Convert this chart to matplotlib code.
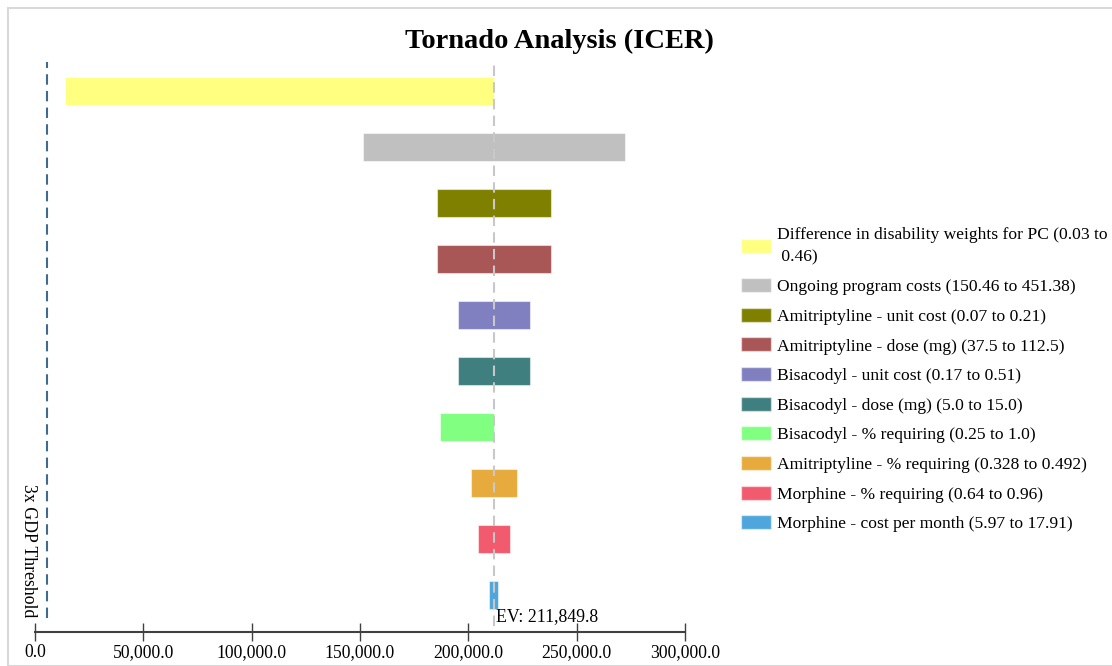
import matplotlib
matplotlib.use("Agg")
import matplotlib.pyplot as plt
from matplotlib.patches import Rectangle, Patch
from matplotlib.ticker import FuncFormatter

# données du tornado (ICER)
parametres = [
    "Difference in disability weights for PC (0.03 to\n 0.46)",
    "Ongoing program costs (150.46 to 451.38)",
    "Amitriptyline - unit cost (0.07 to 0.21)",
    "Amitriptyline - dose (mg) (37.5 to 112.5)",
    "Bisacodyl - unit cost (0.17 to 0.51)",
    "Bisacodyl - dose (mg) (5.0 to 15.0)",
    "Bisacodyl - % requiring (0.25 to 1.0)",
    "Amitriptyline - % requiring (0.328 to 0.492)",
    "Morphine - % requiring (0.64 to 0.96)",
    "Morphine - cost per month (5.97 to 17.91)",
]
icer_bas = [13900, 151400, 185500, 185500, 195200, 195200, 186900, 201200, 204500, 209600]
icer_haut = [211849.8, 272300, 238200, 238200, 228500, 228500, 211849.8, 222500, 219200, 213700]
couleurs = ["#ffff80", "#c0c0c0", "#808000", "#a95656", "#8080c0",
            "#3f7f7f", "#80ff80", "#e6ab3c", "#f25a6e", "#4ea6dc"]

ev = 211849.8
seuil_gdp = 5540
xticks = [0, 50000, 100000, 150000, 200000, 250000, 300000]

plt.rcParams["font.family"] = ["Liberation Serif", "DejaVu Serif"]

fig = plt.figure(figsize=(11.12, 6.66), dpi=100)
fig.patches.append(Rectangle((8 / 1112, 0), 1.0, 1 - 8 / 666, transform=fig.transFigure,
                             facecolor="none", edgecolor="#d9d9d9", lw=1.5))

ax = fig.add_axes([35 / 1112, 1 - 632 / 666, 650 / 1112, 570 / 666])

for i, (lo, hi, c) in enumerate(zip(icer_bas, icer_haut, couleurs)):
    ax.barh(i, hi - lo, left=lo, height=0.5, color=c,
            edgecolor=(1, 1, 1, 0.5), linewidth=0.8)

ax.axvline(ev, ymin=0.01, color="#c8c8c8", ls=(0, (5, 3)), lw=1.5, zorder=3)
ax.axvline(seuil_gdp, ymin=0.025, color="#3f6a92", ls=(0, (5, 3)), lw=1.5)

ax.text(ev + 1000, 9.38, f"EV: {ev:,.1f}", fontsize=12.8, va="center", ha="left")
ax.text(900, 8.2, "3x GDP Threshold", fontsize=12.8, rotation=270,
        va="center", ha="right")

ax.set_xlim(0, 300000)
ax.set_ylim(9.66, -0.52)
ax.set_xticks(xticks)
ax.xaxis.set_major_formatter(FuncFormatter(lambda v, p: f"{v:,.1f}"))
ax.tick_params(axis="x", labelsize=12.7, direction="inout", length=13, width=1,
               color="#404040", pad=2)
ax.set_yticks([])
for s in ["left", "right", "top"]:
    ax.spines[s].set_visible(False)
ax.spines["bottom"].set_color("#404040")
ax.spines["bottom"].set_linewidth(1.5)

fig.text(0.503, 1 - 41 / 666, "Tornado Analysis (ICER)", fontsize=20.5, fontweight="bold",
         ha="center", va="center")

handles = [Patch(facecolor=c, edgecolor=(1, 1, 1, 0.5)) for c in couleurs]
leg = fig.legend(handles, parametres, loc="upper left", bbox_to_anchor=(734 / 1112, 1 - 220 / 666),
                 frameon=False, fontsize=12.6, handlelength=1.7, handleheight=0.85,
                 handletextpad=0.35, labelspacing=0.72, borderaxespad=0)
leg.get_texts()[0].set_linespacing(1.55)

fig.savefig("out.png", dpi=100)
